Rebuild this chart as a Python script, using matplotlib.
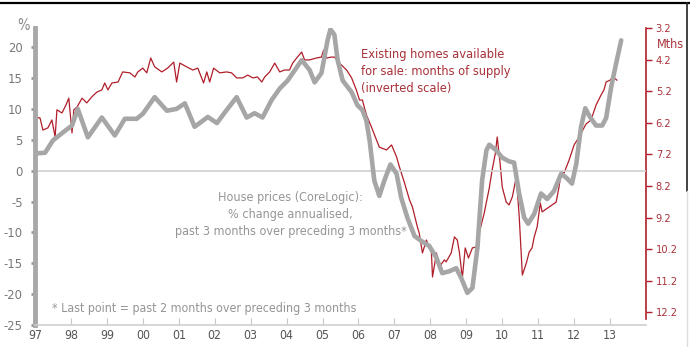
import matplotlib
matplotlib.use("Agg")
import matplotlib.pyplot as plt
from matplotlib.lines import Line2D
from matplotlib import font_manager as fm

# the original uses a condensed face; take a condensed one if it is there
narrow = [f for f in fm.fontManager.ttflist
          if "Condensed" in f.fname or "Narrow" in f.fname]
if narrow:
    plt.rcParams['font.family'] = [narrow[0].name, 'DejaVu Sans']
    plt.rcParams['font.stretch'] = 'condensed'
else:
    plt.rcParams['font.family'] = ['Liberation Sans', 'DejaVu Sans']

# House prices (CoreLogic), % change annualised - left axis
price_t = [1997.06, 1997.28, 1997.50, 1997.78, 1998.03, 1998.19, 1998.47, 1998.86,
           1999.22, 1999.50, 1999.83, 2000.00, 2000.33, 2000.67, 2000.94, 2001.17,
           2001.44, 2001.81, 2002.06, 2002.33, 2002.61, 2002.89, 2003.11, 2003.33,
           2003.58, 2003.81, 2004.03, 2004.28, 2004.42, 2004.64, 2004.78, 2004.97,
           2005.14, 2005.22, 2005.33, 2005.42, 2005.56, 2005.81, 2005.97, 2006.11,
           2006.22, 2006.31, 2006.44, 2006.58, 2006.72, 2006.89, 2007.06, 2007.19,
           2007.36, 2007.56, 2007.75, 2007.97, 2008.17, 2008.33, 2008.53, 2008.72,
           2008.86, 2009.03, 2009.17, 2009.31, 2009.44, 2009.56, 2009.64, 2009.83,
           2010.00, 2010.19, 2010.33, 2010.47, 2010.61, 2010.72, 2010.89, 2011.08,
           2011.25, 2011.44, 2011.64, 2011.81, 2011.94, 2012.06, 2012.19, 2012.31,
           2012.42, 2012.61, 2012.78, 2012.89, 2013.03, 2013.17, 2013.31]
price_v = [2.8, 2.9, 4.9, 6.2, 7.3, 10.0, 5.4, 8.6,
           5.7, 8.4, 8.4, 9.2, 11.9, 9.7, 10.0, 10.9,
           7.1, 8.7, 7.7, 9.8, 11.9, 8.6, 9.3, 8.6,
           11.4, 13.3, 14.6, 16.7, 17.9, 16.3, 14.3, 15.8,
           21.1, 22.9, 22.0, 17.9, 14.6, 12.7, 10.6, 9.8,
           8.1, 4.9, -1.6, -4.1, -1.6, 1.0, -0.5, -4.4,
           -7.6, -10.6, -11.4, -12.2, -14.1, -16.6, -16.3, -15.8,
           -17.4, -19.8, -19.0, -12.5, -1.6, 3.3, 4.2, 3.3,
           2.1, 1.5, 1.3, -3.7, -7.6, -8.6, -7.0, -3.7,
           -4.6, -3.3, -0.5, -1.3, -2.1, 1.1, 7.0, 10.1,
           8.9, 7.3, 7.3, 8.5, 13.5, 17.4, 21.1]

# Existing homes for sale, months of supply - right axis (inverted)
supply_t = [1997.00, 1997.14, 1997.22, 1997.36, 1997.47, 1997.56, 1997.61, 1997.75,
            1997.86, 1997.94, 1998.03, 1998.08, 1998.17, 1998.31, 1998.44, 1998.58,
            1998.72, 1998.86, 1998.94, 1999.03, 1999.14, 1999.31, 1999.44, 1999.64,
            1999.78, 1999.86, 2000.00, 2000.11, 2000.22, 2000.33, 2000.53, 2000.69,
            2000.86, 2000.94, 2001.03, 2001.22, 2001.39, 2001.53, 2001.69, 2001.78,
            2001.86, 2001.97, 2002.14, 2002.33, 2002.47, 2002.61, 2002.78, 2002.92,
            2003.06, 2003.19, 2003.31, 2003.39, 2003.53, 2003.67, 2003.81, 2003.94,
            2004.08, 2004.17, 2004.28, 2004.42, 2004.50, 2004.64, 2004.83, 2004.97,
            2005.03, 2005.11, 2005.25, 2005.33, 2005.47, 2005.67, 2005.81, 2005.94,
            2006.03, 2006.11, 2006.22, 2006.36, 2006.50, 2006.58, 2006.78, 2006.92,
            2007.06, 2007.14, 2007.28, 2007.42, 2007.50, 2007.64, 2007.69, 2007.78,
            2007.89, 2008.03, 2008.06, 2008.17, 2008.25, 2008.39, 2008.44, 2008.58,
            2008.67, 2008.75, 2008.81, 2008.89, 2008.97, 2009.06, 2009.17, 2009.28,
            2009.36, 2009.50, 2009.64, 2009.72, 2009.81, 2009.86, 2009.94, 2010.00,
            2010.11, 2010.19, 2010.28, 2010.39, 2010.47, 2010.56, 2010.67, 2010.75,
            2010.83, 2010.89, 2010.97, 2011.06, 2011.11, 2011.31, 2011.50, 2011.58,
            2011.64, 2011.72, 2011.86, 2012.00, 2012.14, 2012.33, 2012.47, 2012.61,
            2012.75, 2012.83, 2012.89, 2013.00, 2013.08, 2013.19]
supply_v = [6.02, 6.05, 6.43, 6.36, 6.11, 6.65, 5.79, 5.89,
            5.64, 5.42, 6.52, 5.79, 5.70, 5.42, 5.57, 5.38,
            5.23, 5.16, 4.94, 5.16, 4.94, 4.91, 4.59, 4.62,
            4.75, 4.59, 4.47, 4.62, 4.15, 4.43, 4.59, 4.47,
            4.28, 4.91, 4.31, 4.43, 4.53, 4.47, 4.94, 4.59,
            4.91, 4.47, 4.62, 4.59, 4.62, 4.78, 4.78, 4.69,
            4.78, 4.75, 4.91, 4.75, 4.59, 4.31, 4.59, 4.53,
            4.53, 4.31, 4.15, 3.96, 4.21, 4.21, 4.15, 4.12,
            3.90, 4.15, 4.12, 4.12, 4.31, 4.53, 4.78, 5.16,
            5.48, 5.48, 5.95, 6.33, 6.74, 6.97, 7.06, 6.90,
            7.28, 7.60, 8.10, 8.64, 8.86, 9.50, 9.69, 10.32,
            9.91, 10.32, 11.08, 10.32, 10.76, 10.54, 10.60, 10.32,
            9.81, 9.91, 10.32, 11.11, 10.16, 10.48, 10.16, 10.13,
            9.69, 9.05, 8.26, 7.69, 7.16, 6.65, 7.47, 8.23,
            8.71, 8.80, 8.55, 7.92, 9.12, 11.02, 10.64, 10.29,
            10.16, 9.81, 9.50, 8.74, 9.02, 8.86, 8.71, 8.23,
            7.76, 7.79, 7.38, 6.90, 6.65, 6.24, 6.11, 5.64,
            5.32, 5.16, 4.91, 4.85, 4.75, 4.85]

year_ticks = list(range(1997, 2014))
year_labels = ["97", "98", "99", "00", "01", "02", "03", "04", "05",
               "06", "07", "08", "09", "10", "11", "12", "13"]
left_ticks = [20, 15, 10, 5, 0, -5, -10, -15, -20, -25]
right_ticks = [3.2, 4.2, 5.2, 6.2, 7.2, 8.2, 9.2, 10.2, 11.2, 12.2]

GREY = "#a6a6a6"
NOTE_GREY = "#959595"
RED = "#b01e2a"
RED_TXT = "#a8323a"

fig = plt.figure(figsize=(6.9, 3.47), dpi=100)
ax = fig.add_axes([35 / 690, 22 / 347, 611 / 690, 297 / 347])
ax2 = ax.twinx()

ax.axhline(0, color="#d0d0d0", lw=1.2, zorder=1)
ax.plot(price_t, price_v, color=GREY, lw=3.3, solid_capstyle="round", zorder=2)
ax2.plot(supply_t, supply_v, color=RED, lw=0.9, zorder=3)
ax.set_zorder(ax2.get_zorder() + 1)
ax.patch.set_visible(False)

ax.set_xlim(1997, 2014)
ax.set_ylim(-25, 23.1)
ax2.set_ylim(12.6, 3.2)

ax.set_xticks(year_ticks)
ax.set_xticklabels(year_labels)
ax.set_yticks(left_ticks)
ax.set_yticklabels([str(v) for v in left_ticks])
ax2.set_yticks(right_ticks)
ax2.set_yticklabels([f"{v:.1f}" for v in right_ticks])

ax.tick_params(axis="x", direction="in", length=5, color="#c8c8c8",
               labelsize=10, labelcolor="#555555", pad=3)
ax.tick_params(axis="y", direction="out", length=3, width=2, color="#999999",
               labelsize=10, labelcolor="#777777", pad=6)
ax2.tick_params(axis="y", direction="out", length=4, width=1, color=RED,
                labelsize=10, labelcolor=RED_TXT, pad=3)

for a in (ax, ax2):
    a.spines["top"].set_visible(False)
ax.spines["left"].set_color("#a8a8a8")
ax.spines["left"].set_linewidth(3.5)
ax.spines["bottom"].set_color("#cfcfcf")
ax.spines["bottom"].set_linewidth(1.2)
ax.spines["right"].set_visible(False)
ax2.spines["left"].set_visible(False)
ax2.spines["bottom"].set_visible(False)
ax2.spines["right"].set_color(RED)
ax2.spines["right"].set_linewidth(1.2)
ax2.spines["right"].set_bounds(3.2, 12.4)

fig.text(24 / 690, 1 - 25 / 347, "%", ha="center", va="center",
         fontsize=10.5, color="#888888")
mths = fig.text(670 / 690, 1 - 44 / 347, "Mths", ha="center", va="center",
                fontsize=10, color=RED_TXT)

red_note = ax.text(2006.08, 19.8, "Existing homes available\nfor sale: months of supply\n(inverted scale)",
                   ha="left", va="top", fontsize=10, color=RED_TXT, linespacing=1.4)
grey_note = ax.text(2004.11, -3.3, "House prices (CoreLogic):\n% change annualised,\npast 3 months over preceding 3 months*",
                    ha="center", va="top", fontsize=10, color=NOTE_GREY, fontweight="medium",
                    linespacing=1.4)
foot = ax.text(1997.47, -22.4, "* Last point = past 2 months over preceding 3 months",
               ha="left", va="center", fontsize=10, color=NOTE_GREY, fontweight="medium")

# scale the font sizes so the texts are about as wide as in the original
fig.canvas.draw()
rend = fig.canvas.get_renderer()


def fit(txt, target):
    w = txt.get_window_extent(rend).width
    return txt.get_fontsize() * target / w


for t, target in [(red_note, 150), (grey_note, 232), (foot, 305), (mths, 27)]:
    t.set_fontsize(fit(t, target))

ax.tick_params(axis="x", labelsize=fit(ax.get_xticklabels()[0], 14))
ax.tick_params(axis="y", labelsize=fit(ax.get_yticklabels()[-1], 19))
ax2.tick_params(axis="y", labelsize=fit(ax2.get_yticklabels()[-1], 22))

# frame lines of the original image
fig.add_artist(Line2D([0, 1], [1 - 3 / 347, 1 - 3 / 347], color="black", lw=1.6))
fig.add_artist(Line2D([687 / 690, 687 / 690], [1 - 3 / 347, 0.45], color="#222222", lw=1.2))
fig.add_artist(Line2D([687 / 690, 687 / 690], [0.45, 0], color="#dddddd", lw=1.0))

fig.savefig("out.png", dpi=100)
